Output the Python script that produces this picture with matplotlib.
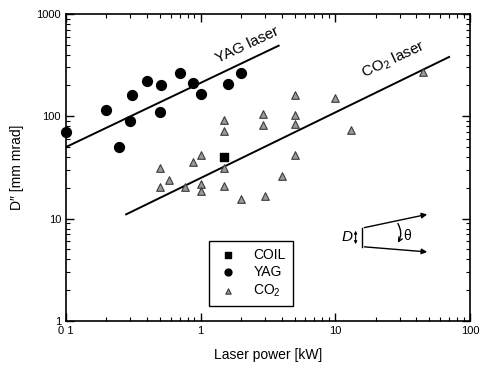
import numpy as np
import matplotlib
matplotlib.use("Agg")
import matplotlib.pyplot as plt
from matplotlib.ticker import FixedLocator, FixedFormatter, LogLocator, NullFormatter

plt.rcParams['font.family'] = ['Liberation Sans', 'DejaVu Sans']
plt.rcParams['mathtext.fontset'] = 'custom'
plt.rcParams['mathtext.rm'] = 'Liberation Sans'

# data
yag_power = [0.1, 0.2, 0.25, 0.3, 0.31, 0.4, 0.5, 0.51, 0.7, 0.88, 1.0, 1.6, 2.0]
yag_bpp = [70, 115, 50, 90, 160, 220, 110, 200, 265, 212, 165, 205, 265]

coil_power = [1.5]
coil_bpp = [40]

co2_power = [0.5, 0.5, 0.58, 0.76, 0.88, 1.0, 1.0, 1.0, 1.5, 1.5, 1.5, 1.5,
             2.0, 2.9, 2.9, 3.0, 4.0, 5.0, 5.0, 5.0, 5.0, 10, 13, 45]
co2_bpp = [31, 20.5, 24, 20.5, 36, 42, 22, 18.5, 93, 72, 31, 21,
           15.5, 105, 82, 16.5, 26, 160, 103, 84, 42, 150, 73, 270]

yag_fit_x = [0.1, 3.8]
yag_fit_y = [50, 490]
co2_fit_x = [0.28, 70]
co2_fit_y = [11, 380]

fig = plt.figure(figsize=(4.81, 3.68), dpi=100)
ax = fig.add_axes([0.137, 0.128, 0.840, 0.834])
ax.set_xscale('log')
ax.set_yscale('log')
ax.set_xlim(0.1, 100)
ax.set_ylim(1, 1000)

ax.plot(yag_fit_x, yag_fit_y, color='black', lw=1.4)
ax.plot(co2_fit_x, co2_fit_y, color='black', lw=1.4)

h_co2 = ax.scatter(co2_power, co2_bpp, marker='^', s=30, facecolor='#9a9a9a',
                   edgecolor='#3a3a3a', linewidth=0.8, zorder=3)
h_yag = ax.scatter(yag_power, yag_bpp, marker='o', s=50, color='black',
                   zorder=3, clip_on=False)
h_coil = ax.scatter(coil_power, coil_bpp, marker='s', s=40, color='black', zorder=3)

ax.text(2.2, 500, 'YAG laser', rotation=25, fontsize=11,
        ha='center', va='center')
ax.text(27, 355, 'CO$_2$ laser', rotation=25, fontsize=11,
        ha='center', va='center')

# beam divergence sketch
ax.annotate('', xy=(0.901, 0.349), xytext=(0.732, 0.302), xycoords='axes fraction',
            arrowprops=dict(arrowstyle='-|>', color='black', lw=1, mutation_scale=8))
ax.annotate('', xy=(0.901, 0.224), xytext=(0.732, 0.242), xycoords='axes fraction',
            arrowprops=dict(arrowstyle='-|>', color='black', lw=1, mutation_scale=8))
ax.plot([0.732, 0.732], [0.242, 0.302], transform=ax.transAxes, color='black', lw=1)
ax.annotate('', xy=(0.818, 0.247), xytext=(0.818, 0.325), xycoords='axes fraction',
            arrowprops=dict(arrowstyle='->', color='black', lw=1, mutation_scale=7,
                            connectionstyle='arc3,rad=-0.35'))
ax.annotate('', xy=(0.717, 0.250), xytext=(0.717, 0.294), xycoords='axes fraction',
            arrowprops=dict(arrowstyle='<|-|>', color='black', lw=0.8,
                            mutation_scale=4, shrinkA=0, shrinkB=0))
ax.text(0.695, 0.272, 'D', transform=ax.transAxes, fontsize=11, style='italic',
        ha='center', va='center')
ax.text(0.845, 0.278, '\u03b8', transform=ax.transAxes, fontsize=10,
        ha='center', va='center')

ax.xaxis.set_major_locator(FixedLocator([0.1, 1, 10, 100]))
ax.xaxis.set_major_formatter(FixedFormatter(['0 1', '1', '10', '100']))
ax.yaxis.set_major_locator(FixedLocator([1, 10, 100, 1000]))
ax.yaxis.set_major_formatter(FixedFormatter(['1', '10', '100', '1000']))
for axis in (ax.xaxis, ax.yaxis):
    axis.set_minor_locator(LogLocator(base=10, subs=np.arange(2, 10)))
    axis.set_minor_formatter(NullFormatter())
ax.tick_params(which='both', direction='in', top=True, right=True, labelsize=8)
ax.tick_params(which='major', length=6, width=1)
ax.tick_params(which='minor', length=3, width=0.8)
for sp in ax.spines.values():
    sp.set_linewidth(1.2)

ax.set_xlabel('Laser power [kW]', fontsize=10, labelpad=9)
ax.set_ylabel('D\u2033 [mm mrad]', fontsize=10, labelpad=9)

leg = ax.legend([h_coil, h_yag, h_co2], ['COIL', 'YAG', 'CO$_2$'],
                loc='lower left', bbox_to_anchor=(0.354, 0.049), fontsize=10,
                frameon=True, fancybox=False, edgecolor='black', framealpha=1,
                handletextpad=0.9, borderpad=0.5, labelspacing=0.25,
                handlelength=1.8, markerscale=0.7, borderaxespad=0)
leg.get_frame().set_linewidth(1)

fig.savefig('out.png', dpi=100)
